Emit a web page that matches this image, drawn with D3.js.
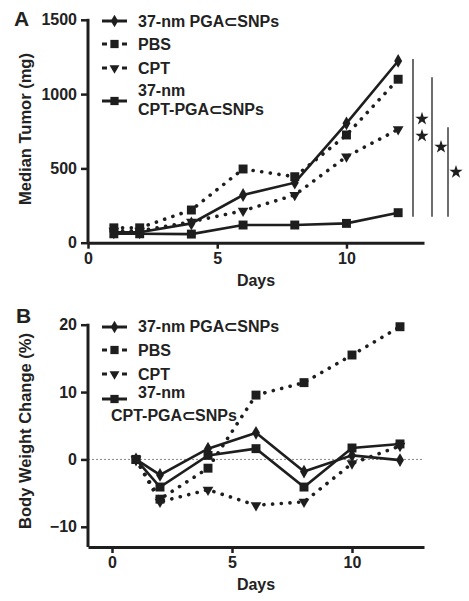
<!DOCTYPE html>
<html><head><meta charset="utf-8">
<script src="https://cdn.jsdelivr.net/npm/d3@7"></script>
<style>
body{margin:0;background:#fff;}
text{font-family:"Liberation Sans",Arial,sans-serif;font-weight:bold;fill:#222;}
</style></head>
<body><svg id="c" width="469" height="601"></svg>
<script>
const days = [1, 2, 4, 6, 8, 10, 12];
const seriesNames = ["37-nm PGA⊂SNPs", "PBS", "CPT", "37-nm CPT-PGA⊂SNPs"];
const tumorPGA = [70, 70, 130, 321, 404, 803, 1223];
const tumorPBS = [100, 100, 220, 496, 444, 725, 1100];
const tumorCPT = [80, 80, 141, 215, 321, 579, 763];
const tumorCPTPGA = [60, 60, 58, 119, 119, 130, 202];
const bwPGA = [0, -2.3, 1.6, 3.95, -1.8, 0.6, -0.1];
const bwPBS = [0, -5.9, -1.3, 9.55, 11.4, 15.5, 19.7];
const bwCPT = [0, -6.3, -4.5, -6.8, -6.3, -0.6, 2.0];
const bwCPTPGA = [0, -4.1, 0.6, 1.6, -4.1, 1.7, 2.3];
const tumorTicks = [0, 500, 1000, 1500];
const bwTicks = [-10, 0, 10, 20];
const dayTicks = [0, 5, 10];
// significance: bracket from series final value down to CPT-PGA final value
const sig = [{s: 0, stars: 2}, {s: 1, stars: 1}, {s: 2, stars: 1}];

const styles = [
  {sym: "diamond", dotted: false},
  {sym: "square", dotted: true},
  {sym: "tri", dotted: true},
  {sym: "square", dotted: false}
];
const INK = "#1e1e1e";
const FS = "16px";
const svg = d3.select("#c");

function marker(g, type, x, y, scale) {
  let p;
  if (type === "diamond") p = d3.symbol(d3.symbolDiamond, 55 * scale)();
  else if (type === "square") p = d3.symbol(d3.symbolSquare, 80 * scale)();
  else p = d3.symbol(d3.symbolTriangle, 50 * scale)();
  g.append("path").attr("d", p)
    .attr("transform", `translate(${x},${y})` + (type === "tri" ? " rotate(180)" : ""))
    .attr("fill", INK);
}

function panel(cfg) {
  const g = svg.append("g");
  const x = d3.scaleLinear().domain(cfg.xd).range([88, 424]);
  const y = d3.scaleLinear().domain(cfg.yd).range(cfg.yr);
  if (cfg.zero) {
    g.append("line").attr("x1", 88).attr("x2", 424).attr("y1", y(0)).attr("y2", y(0))
      .attr("stroke", "#888").attr("stroke-width", 1).attr("stroke-dasharray", "2,2");
  }
  const ya = g.append("g").attr("transform", "translate(88,0)")
    .call(d3.axisLeft(y).tickValues(cfg.yticks).tickFormat(d3.format("d")).tickSize(7).tickSizeOuter(0).tickPadding(4));
  const xa = g.append("g").attr("transform", `translate(0,${cfg.yr[0]})`)
    .call(d3.axisBottom(x).tickValues(dayTicks).tickFormat(d3.format("d")).tickSize(6).tickSizeOuter(0).tickPadding(4));
  [ya, xa].forEach(a => {
    a.select(".domain").attr("stroke", INK).attr("stroke-width", 3);
    a.selectAll(".tick line").attr("stroke", INK).attr("stroke-width", 2.5);
    a.selectAll("text").style("font-size", FS).style("font-family", "Liberation Sans, Arial, sans-serif")
      .style("font-weight", "bold").attr("fill", "#222");
  });
  ya.select(".domain").attr("d", `M0,${cfg.yr[1] - 1}V${cfg.yr[0]}`);
  g.append("text").attr("x", (88 + 424) / 2).attr("y", cfg.yr[0] + 43).attr("text-anchor", "middle")
    .style("font-size", FS).text("Days");
  g.append("text").attr("transform", `translate(31,${cfg.ylabY}) rotate(-90)`).attr("text-anchor", "middle")
    .style("font-size", "16.5px").text(cfg.ylabel);
  g.append("text").attr("x", cfg.titleX).attr("y", cfg.titleY).style("font-size", "21px").text(cfg.title);

  const line = d3.line().x((d, i) => x(days[i])).y(d => y(d));
  cfg.data.forEach((arr, k) => {
    const st = styles[k];
    g.append("path").attr("d", line(arr)).attr("fill", "none").attr("stroke", INK)
      .attr("stroke-width", st.dotted ? 3.6 : 2.6)
      .attr("stroke-linecap", st.dotted ? "round" : "butt")
      .attr("stroke-dasharray", st.dotted ? "0.1,8.6" : null);
  });
  cfg.data.forEach((arr, k) => {
    arr.forEach((v, i) => marker(g, styles[k].sym, x(days[i]), y(v), cfg.mscale));
  });

  cfg.legRows.forEach((r, k) => {
    const st = styles[k];
    const lx0 = 102, lx1 = 127, cx = 114.5;
    g.append("line").attr("x1", lx0).attr("x2", lx1).attr("y1", r.ly).attr("y2", r.ly)
      .attr("stroke", INK).attr("stroke-width", 3).attr("stroke-dasharray", st.dotted ? "5,5" : null);
    marker(g, st.sym, cx, r.ly, cfg.mscale * 0.85);
    r.lines.forEach(t => {
      g.append("text").attr("x", t.x).attr("y", t.y).attr("dy", "0.35em")
        .style("font-size", FS).text(t.s);
    });
  });
  return {g, x, y};
}

const A = panel({
  xd: [0, 13], yd: [0, 1500], yr: [242.7, 19.8], yticks: tumorTicks, zero: false,
  ylabel: "Median Tumor (mg)", ylabY: 129, title: "A", titleX: 14, titleY: 26, mscale: 1,
  data: [tumorPGA, tumorPBS, tumorCPT, tumorCPTPGA],
  legRows: [
    {ly: 21, lines: [{x: 138, y: 21, s: "37-nm PGA⊂SNPs"}]},
    {ly: 44, lines: [{x: 138, y: 44, s: "PBS"}]},
    {ly: 68, lines: [{x: 138, y: 68, s: "CPT"}]},
    {ly: 101, lines: [{x: 138, y: 90, s: "37-nm"}, {x: 138, y: 109, s: "CPT-PGA⊂SNPs"}]}
  ]
});

const tumorAll = [tumorPGA, tumorPBS, tumorCPT];
const bx = [413, 432, 448];
const starOff = [9, 9, 8];
sig.forEach((s, k) => {
  const top = A.y(tumorAll[s.s][6]) - 2;
  const bot = A.y(tumorCPTPGA[6]) + 4;
  A.g.append("line").attr("x1", bx[k]).attr("x2", bx[k]).attr("y1", top).attr("y2", bot)
    .attr("stroke", INK).attr("stroke-width", 1.3);
  const mid = (top + bot) / 2;
  const ys = s.stars === 2 ? [mid - 19, mid - 2] : [mid];
  ys.forEach(yy => {
    A.g.append("path").attr("d", d3.symbol(d3.symbolStar, 55)())
      .attr("transform", `translate(${bx[k] + starOff[k]},${yy})`).attr("fill", INK);
  });
});

panel({
  xd: [-1, 13], yd: [-13, 20], yr: [547, 324.7], yticks: bwTicks, zero: true,
  ylabel: "Body Weight Change (%)", ylabY: 431, title: "B", titleX: 16, titleY: 323, mscale: 1,
  data: [bwPGA, bwPBS, bwCPT, bwCPTPGA],
  legRows: [
    {ly: 327, lines: [{x: 138, y: 326, s: "37-nm PGA⊂SNPs"}]},
    {ly: 350, lines: [{x: 138, y: 350, s: "PBS"}]},
    {ly: 374, lines: [{x: 138, y: 374, s: "CPT"}]},
    {ly: 399, lines: [{x: 138, y: 392, s: "37-nm"}, {x: 111, y: 415, s: "CPT-PGA⊂SNPs"}]}
  ]
});
</script></body></html>
